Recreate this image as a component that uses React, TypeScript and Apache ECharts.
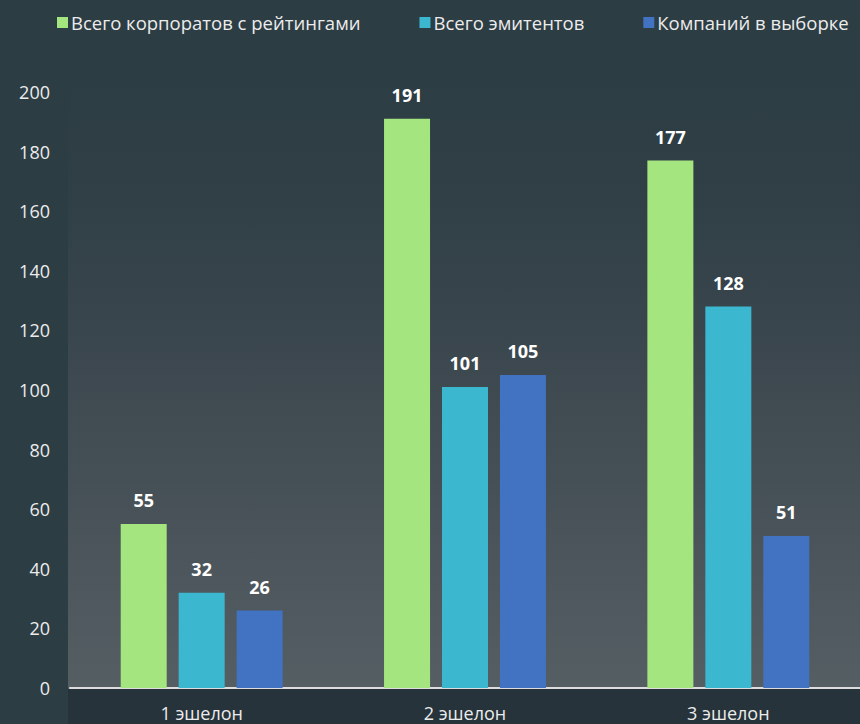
import React, { useEffect, useRef } from "react";
import * as echarts from "echarts";

const categories = ["1 эшелон", "2 эшелон", "3 эшелон"];
const seriesNames = ["Всего корпоратов с рейтингами", "Всего эмитентов", "Компаний в выборке"];
const totalRated = [55, 191, 177];
const totalIssuers = [32, 101, 128];
const sampleCompanies = [26, 105, 51];
const colors = ["#a5e57f", "#3bb8d0", "#4173c2"];

export default function App() {
  const ref = useRef<HTMLDivElement>(null);
  useEffect(() => {
    document.body.style.margin = "0";
    const chart = echarts.init(ref.current!, null, { renderer: "svg" });
    const font = "'Open Sans', 'Noto Sans', sans-serif";
    const values = [totalRated, totalIssuers, sampleCompanies];
    chart.setOption({
      animation: false,
      backgroundColor: "#2d3d44",
      textStyle: { fontFamily: font },
      graphic: [
        {
          type: "rect",
          z: -10,
          silent: true,
          shape: { x: 68, y: 40, width: 792, height: 649 },
          style: {
            fill: new echarts.graphic.LinearGradient(0, 0, 0, 1, [
              { offset: 0, color: "rgba(45,61,68,0)" },
              { offset: 0.45, color: "rgba(58,70,77,1)" },
              { offset: 1, color: "#555e63" },
            ]),
          },
        },
        {
          type: "rect",
          z: -10,
          silent: true,
          shape: { x: 68, y: 689, width: 792, height: 35 },
          style: { fill: "#27333a" },
        },
      ],
      legend: {
        top: 8,
        left: 52,
        itemWidth: 11,
        itemHeight: 11,
        itemGap: 59,
        icon: "rect",
        textStyle: { color: "#ececec", fontSize: 18.5, fontFamily: font, padding: [0, 0, 0, -2] },
        data: seriesNames,
      },
      grid: { left: 70, right: -3, top: 92, bottom: 36, containLabel: false },
      xAxis: {
        type: "category",
        data: categories,
        axisLine: { lineStyle: { color: "#dcdcdc", width: 2 } },
        axisTick: { show: false },
        axisLabel: { color: "#ececec", fontSize: 18, margin: 16, fontFamily: font },
      },
      yAxis: {
        type: "value",
        min: 0,
        max: 200,
        interval: 20,
        splitLine: { show: false },
        axisLine: { show: false },
        axisLabel: { color: "#ececec", fontSize: 18, margin: 20, fontFamily: font },
      },
      series: seriesNames.map((name, i) => ({
        name,
        type: "bar",
        data: values[i],
        barWidth: 46,
        barGap: "26%",
        itemStyle: { color: colors[i] },
        label: {
          show: true,
          position: "top",
          distance: 15,
          color: "#ffffff",
          fontWeight: "bold",
          fontSize: 18,
          fontFamily: font,
        },
      })),
    });
    return () => chart.dispose();
  }, []);
  return <div ref={ref} style={{ position: "fixed", left: 0, top: 0, width: 860, height: 724 }} />;
}
